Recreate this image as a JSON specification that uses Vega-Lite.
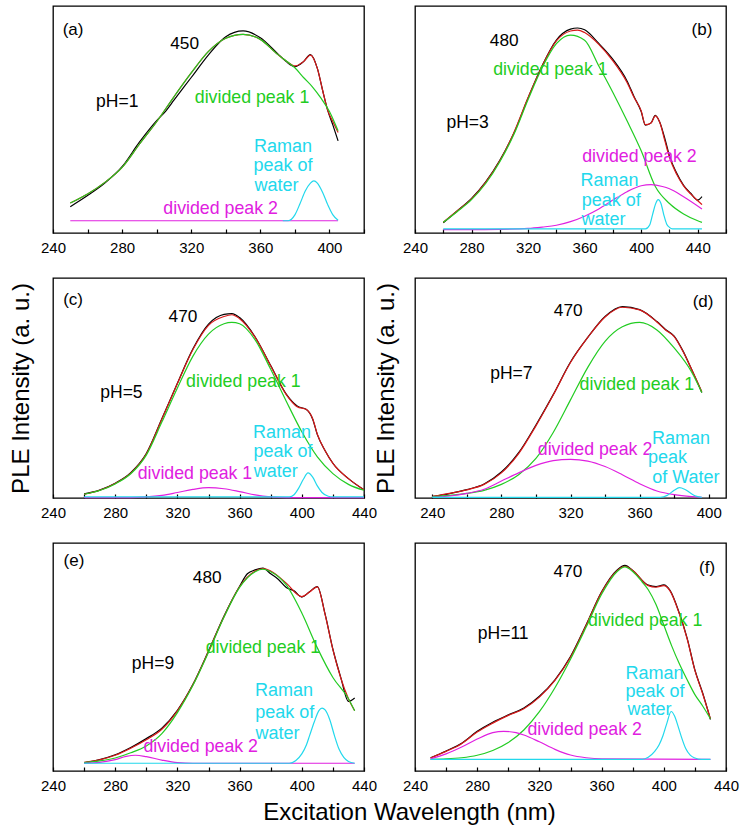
{
  "$schema": "https://vega.github.io/schema/vega-lite/v6.json",
  "padding": {"left": 8, "top": 5, "right": 4, "bottom": 4},
  "background": "white",
  "columns": 2,
  "spacing": {"row": 45, "column": 51},
  "bounds": "flush",
  "config": {
    "view": {"stroke": "#000000", "strokeWidth": 1.3},
    "axis": {"grid": false, "domain": false, "labelFont": "Liberation Sans", "titleFont": "Liberation Sans", "labelFontSize": 15, "labelColor": "#000000", "titleColor": "#000000", "titleFontWeight": "normal", "tickColor": "#000000", "tickWidth": 1.2},
    "text": {"font": "Liberation Sans"}
  },
  "datasets": {
    "curves": [
      {"p": "a", "s": "k", "x": [250,260,270,280,290,300,305,310,320,330,340,350,360,370,375,380,385,389,393,396,399,402,405], "y": [11.6,16.5,22.0,29.2,40.0,49.5,53.5,58.5,68.5,78.5,86.5,89.0,86.0,79.0,75.5,73.3,75.5,78.6,72.5,63.0,54.0,47.5,40.6]},
      {"p": "a", "s": "r", "x": [250,260,270,280,290,300,310,320,330,340,350,360,370,375,380,385,389,393,396,399,402,405], "y": [13.2,17.2,22.3,28.9,39.1,49.0,60.0,70.5,80.0,85.8,87.5,85.3,78.7,75.8,73.6,75.5,78.4,72.5,63.0,54.0,49.0,44.3]},
      {"p": "a", "s": "g", "x": [250,260,270,280,290,300,310,320,330,340,350,360,370,375,380,385,390,395,400,405], "y": [13.2,17.2,22.3,28.9,39.1,49.0,60.0,70.5,80.0,85.8,87.5,85.3,78.7,75.8,72.8,68.5,64.5,59.5,53.5,45.0]},
      {"p": "a", "s": "m", "x": [250,405], "y": [5.4,5.4]},
      {"p": "a", "s": "c", "x": [373,376,380,383,386,389,391,393,396,399,402,405], "y": [5.4,5.4,8.0,13.0,18.5,22.0,23.0,22.0,18.0,12.5,8.0,5.6]},

      {"p": "b", "s": "k", "x": [260,270,280,290,300,310,320,330,340,350,355,360,370,380,390,395,400,403,407,410,413,417,420,425,430,435,440,443], "y": [4.5,9.8,15.2,22.5,32.0,44.0,59.5,73.8,85.0,89.8,90.3,89.5,83.5,76.5,67.0,60.0,53.5,47.5,48.5,51.8,49.0,41.0,34.0,26.5,21.0,17.5,14.5,16.0]},
      {"p": "b", "s": "r", "x": [260,270,280,290,300,310,320,330,340,350,355,360,370,380,390,395,400,403,407,410,413,417,420,425,430,435,440,443], "y": [4.7,9.8,15.0,22.3,31.8,44.3,59.7,73.6,84.6,89.0,89.4,88.3,83.1,75.8,66.3,59.7,53.8,47.7,48.5,51.6,49.0,40.0,33.3,26.0,20.8,17.2,14.2,12.5]},
      {"p": "b", "s": "g", "x": [260,270,280,290,300,310,320,330,340,350,360,370,380,390,400,410,420,430,440,443], "y": [4.7,9.5,14.7,21.8,31.4,43.5,58.8,72.9,83.4,87.2,84.9,73.6,61.9,49.4,36.2,20.5,13.0,8.4,5.4,4.7]},
      {"p": "b", "s": "m", "x": [260,280,300,320,330,340,350,360,370,380,390,400,407,415,420,430,443], "y": [1.5,1.5,1.6,2.0,2.6,3.4,5.0,7.4,10.6,14.5,18.2,20.8,21.3,20.5,19.5,16.0,10.6]},
      {"p": "b", "s": "c", "x": [260,403,406,408,410,412,414,416,418,420,422,443], "y": [1.8,1.8,3.5,8.0,12.5,14.7,13.0,8.0,4.0,2.5,1.8,1.8]},

      {"p": "c", "s": "k", "x": [260,270,280,290,300,310,320,330,340,345,350,355,360,370,380,390,397,403,407,410,415,420,430,440], "y": [1.9,3.6,6.7,11.5,20.2,36.0,52.2,67.8,79.0,82.0,83.5,83.8,82.0,73.2,60.2,47.2,41.8,40.2,35.8,28.8,21.5,15.8,8.8,3.7]},
      {"p": "c", "s": "r", "x": [260,270,280,290,300,310,320,330,340,350,355,360,370,380,390,397,403,407,410,415,420,430,440], "y": [1.7,3.5,6.6,11.3,20.0,35.8,52.0,67.5,78.5,82.5,83.3,81.5,73.0,60.0,47.0,41.5,40.2,36.0,29.0,21.5,15.7,8.8,3.8]},
      {"p": "c", "s": "g", "x": [260,270,280,290,300,310,320,330,340,350,355,360,370,380,390,400,410,420,430,440], "y": [1.7,3.4,6.4,11.0,19.5,34.5,50.0,64.5,74.5,79.2,79.8,79.2,71.9,58.5,44.0,30.1,18.7,11.1,6.2,3.5]},
      {"p": "c", "s": "m", "x": [260,290,300,310,320,330,340,350,360,370,380,390,440], "y": [0.2,0.2,0.5,1.2,2.5,3.9,4.7,4.2,2.9,1.4,0.5,0.2,0.2]},
      {"p": "c", "s": "c", "x": [260,392,395,398,401,404,407,410,413,417,420,440], "y": [0.5,0.5,1.5,4.5,8.5,11.4,9.5,5.5,2.5,0.8,0.5,0.5]},

      {"p": "d", "s": "k", "x": [240,250,260,270,280,290,300,310,320,330,340,350,360,370,375,380,385,390,396], "y": [0.6,2.0,3.8,6.4,11.8,20.6,33.2,47.0,61.8,73.0,82.5,87.0,85.6,80.2,76.6,73.6,67.0,58.6,48.0]},
      {"p": "d", "s": "r", "x": [240,250,260,270,280,290,300,310,320,330,340,350,360,370,375,380,385,390,396], "y": [0.7,2.1,3.7,6.2,11.4,20.2,32.8,46.8,61.6,73.0,82.3,86.7,85.5,80.0,76.4,73.4,66.8,58.6,48.3]},
      {"p": "d", "s": "g", "x": [240,250,260,270,280,290,300,310,320,330,340,350,360,370,380,390,396], "y": [0.6,1.2,2.1,3.5,6.2,10.6,18.0,29.8,44.6,59.4,71.2,77.8,79.8,76.4,68.2,57.4,48.0]},
      {"p": "d", "s": "m", "x": [240,250,260,270,280,290,300,310,320,330,340,350,360,370,380,390,396], "y": [0.3,0.9,2.1,4.0,7.7,11.4,14.8,17.0,17.6,16.8,14.3,10.6,6.5,3.2,1.5,0.6,0.3]},
      {"p": "d", "s": "c", "x": [240,372,376,380,383,386,389,392,396], "y": [0.3,0.3,1.2,3.5,4.7,4.0,2.5,1.0,0.3]},

      {"p": "e", "s": "k", "x": [260,270,280,290,300,310,320,330,340,350,360,365,370,375,380,385,390,395,400,405,410,415,420,425,430,434], "y": [3.6,5.0,7.1,10.3,14.2,18.8,26.6,38.0,52.6,68.0,81.0,86.5,88.2,89.0,86.5,84.0,80.5,79.0,76.3,78.6,80.9,68.8,53.4,41.2,30.5,32.0]},
      {"p": "e", "s": "r", "x": [260,270,280,290,300,310,320,330,340,350,360,370,375,380,390,400,405,410,415,420,425,430,434], "y": [3.8,4.9,6.9,10.0,13.7,18.3,26.4,37.9,52.5,67.8,80.8,87.7,88.8,87.7,82.4,76.5,78.5,80.8,68.6,53.2,40.9,31.7,26.4]},
      {"p": "e", "s": "g", "x": [260,270,280,290,300,310,320,330,340,350,360,370,375,380,390,400,410,420,430,434], "y": [3.7,4.4,5.7,8.0,11.0,16.4,25.6,37.6,52.1,67.5,80.5,87.4,88.5,87.4,81.6,69.3,54.0,41.0,31.7,26.4]},
      {"p": "e", "s": "m", "x": [260,270,280,287,293,300,310,320,330,434], "y": [3.4,3.8,5.0,6.4,6.9,6.3,4.8,3.7,3.4,3.4]},
      {"p": "e", "s": "c", "x": [260,392,396,400,403,405,408,411,413,415,418,421,424,427,430,434], "y": [3.4,3.4,4.5,7.5,11.5,15.5,21.5,26.5,27.6,26.8,22.5,15.5,9.5,6.0,4.2,3.4]},

      {"p": "f", "s": "k", "x": [250,260,270,280,290,300,310,320,330,340,350,360,370,375,380,390,395,400,404,410,415,420,425,430], "y": [5.8,8.8,12.2,17.4,21.4,24.6,27.6,32.8,40.0,50.2,64.0,78.6,88.2,90.2,88.0,81.5,80.9,81.6,79.2,69.2,58.3,44.3,34.2,22.6]},
      {"p": "f", "s": "r", "x": [250,260,270,280,290,300,310,320,330,340,350,360,370,375,380,390,395,400,404,410,415,420,425,430], "y": [5.7,8.6,12.0,17.1,21.0,24.4,27.3,32.4,39.7,49.9,63.8,78.4,87.9,89.8,87.9,81.3,80.6,81.3,79.0,68.9,58.0,44.1,33.9,22.9]},
      {"p": "f", "s": "g", "x": [250,260,270,280,290,300,310,320,330,340,350,360,370,375,380,386,390,395,400,405,410,415,420,425,430], "y": [5.1,5.3,5.8,6.9,9.0,12.5,18.0,26.0,36.5,49.0,63.0,77.5,87.5,89.5,87.5,83.0,79.5,73.0,64.0,55.0,47.0,40.0,33.5,28.5,22.9]},
      {"p": "f", "s": "m", "x": [250,260,270,280,290,297,305,310,320,330,340,350,360,430], "y": [5.3,7.5,10.5,14.0,16.8,17.4,16.8,15.8,12.8,9.5,7.0,5.8,5.3,5.1]},
      {"p": "f", "s": "c", "x": [250,386,390,394,397,399.5,402,404.7,407,409,411,414,417,420,424,430], "y": [5.1,5.1,6.0,8.5,11.5,15.6,21.0,26.1,24.0,20.0,15.6,10.0,7.0,5.7,5.1,5.1]}
    ],
    "labels": [
      {"p": "a", "t": "(a)", "x": 251.6, "y": 89.3, "s": "k", "r": "tag"},
      {"p": "a", "t": "450", "x": 316.2, "y": 83.1, "s": "k", "r": "num"},
      {"p": "a", "t": "pH=1", "x": 277.2, "y": 57.5, "s": "k", "r": "ph"},
      {"p": "a", "t": "divided peak 1", "x": 355.2, "y": 59.4, "s": "g", "r": "peak"},
      {"p": "a", "t": "Raman", "x": 373.1, "y": 37.7, "s": "c", "r": "raman"},
      {"p": "a", "t": "peak of", "x": 373.1, "y": 29.3, "s": "c", "r": "raman"},
      {"p": "a", "t": "water", "x": 369.3, "y": 20.5, "s": "c", "r": "raman"},
      {"p": "a", "t": "divided peak 2", "x": 337.0, "y": 10.6, "s": "m", "r": "peak"},

      {"p": "b", "t": "(b)", "x": 443.0, "y": 89.3, "s": "k", "r": "tag"},
      {"p": "b", "t": "480", "x": 303.1, "y": 84.6, "s": "k", "r": "num"},
      {"p": "b", "t": "divided peak 1", "x": 335.8, "y": 71.8, "s": "g", "r": "peak"},
      {"p": "b", "t": "pH=3", "x": 277.2, "y": 48.4, "s": "k", "r": "ph"},
      {"p": "b", "t": "divided peak 2", "x": 398.8, "y": 33.7, "s": "m", "r": "peak"},
      {"p": "b", "t": "Raman", "x": 377.6, "y": 23.0, "s": "c", "r": "raman"},
      {"p": "b", "t": "peak of", "x": 378.8, "y": 14.2, "s": "c", "r": "raman"},
      {"p": "b", "t": "water", "x": 373.4, "y": 5.7, "s": "c", "r": "raman"},

      {"p": "c", "t": "(c)", "x": 252.9, "y": 90.1, "s": "k", "r": "tag"},
      {"p": "c", "t": "470", "x": 323.6, "y": 82.2, "s": "k", "r": "num"},
      {"p": "c", "t": "divided peak 1", "x": 362.4, "y": 52.9, "s": "g", "r": "peak"},
      {"p": "c", "t": "pH=5", "x": 284.0, "y": 47.6, "s": "k", "r": "ph"},
      {"p": "c", "t": "divided peak 1", "x": 331.3, "y": 10.8, "s": "m", "r": "peak"},
      {"p": "c", "t": "Raman", "x": 387.3, "y": 29.6, "s": "c", "r": "raman"},
      {"p": "c", "t": "peak of", "x": 387.9, "y": 20.7, "s": "c", "r": "raman"},
      {"p": "c", "t": "water", "x": 383.2, "y": 11.6, "s": "c", "r": "raman"},

      {"p": "d", "t": "(d)", "x": 396.7, "y": 88.9, "s": "k", "r": "tag"},
      {"p": "d", "t": "470", "x": 318.7, "y": 84.8, "s": "k", "r": "num"},
      {"p": "d", "t": "pH=7", "x": 285.8, "y": 56.4, "s": "k", "r": "ph"},
      {"p": "d", "t": "divided peak 1", "x": 358.4, "y": 51.3, "s": "g", "r": "peak"},
      {"p": "d", "t": "divided peak 2", "x": 334.2, "y": 21.7, "s": "m", "r": "peak"},
      {"p": "d", "t": "Raman", "x": 383.9, "y": 26.9, "s": "c", "r": "raman"},
      {"p": "d", "t": "peak", "x": 376.2, "y": 18.0, "s": "c", "r": "raman"},
      {"p": "d", "t": "of Water", "x": 386.8, "y": 9.2, "s": "c", "r": "raman"},

      {"p": "e", "t": "(e)", "x": 253.5, "y": 92.3, "s": "k", "r": "tag"},
      {"p": "e", "t": "480", "x": 339.2, "y": 84.7, "s": "k", "r": "num"},
      {"p": "e", "t": "divided peak 1", "x": 375.0, "y": 54.0, "s": "g", "r": "peak"},
      {"p": "e", "t": "pH=9", "x": 304.3, "y": 47.1, "s": "k", "r": "ph"},
      {"p": "e", "t": "divided peak 2", "x": 335.0, "y": 10.6, "s": "m", "r": "peak"},
      {"p": "e", "t": "Raman", "x": 388.6, "y": 35.1, "s": "c", "r": "raman"},
      {"p": "e", "t": "peak of", "x": 389.0, "y": 25.6, "s": "c", "r": "raman"},
      {"p": "e", "t": "water", "x": 384.3, "y": 16.4, "s": "c", "r": "raman"},

      {"p": "f", "t": "(f)", "x": 427.8, "y": 88.9, "s": "k", "r": "tag"},
      {"p": "f", "t": "470", "x": 338.4, "y": 87.2, "s": "k", "r": "num"},
      {"p": "f", "t": "pH=11", "x": 296.7, "y": 60.1, "s": "k", "r": "ph"},
      {"p": "f", "t": "divided peak 1", "x": 388.0, "y": 66.0, "s": "g", "r": "peak"},
      {"p": "f", "t": "divided peak 2", "x": 349.1, "y": 17.8, "s": "m", "r": "peak"},
      {"p": "f", "t": "Raman", "x": 394.0, "y": 42.6, "s": "c", "r": "raman"},
      {"p": "f", "t": "peak of", "x": 394.4, "y": 34.6, "s": "c", "r": "raman"},
      {"p": "f", "t": "water", "x": 390.8, "y": 26.6, "s": "c", "r": "raman"}
    ]
  },
  "concat": [
    {
      "width": 311, "height": 227,
      "encoding": {
        "x": {"field": "x", "type": "quantitative", "scale": {"domain": [240, 420], "nice": false, "zero": false}, "axis": {"title": null, "values": [240,260,280,300,320,340,360,380,400,420], "tickSize": -4, "labelPadding": 11, "labelFlush": false, "labelOverlap": false, "labelExpr": "datum.value % 40 == 0 ? datum.label : ''"}},
        "y": {"field": "y", "type": "quantitative", "scale": {"domain": [0, 100], "nice": false}, "axis": null},
        "color": {"field": "s", "type": "nominal", "scale": {"domain": ["k","r","g","m","c"], "range": ["#000000","#D81818","#22CC22","#E020E0","#22D8EC"]}, "legend": null}
      },
      "layer": [
        {"data": {"name": "curves"}, "transform": [{"filter": "datum.p == 'a'"}, {"flatten": ["x", "y"]}], "mark": {"type": "line", "strokeWidth": 1.2, "interpolate": "monotone"}},
        {"data": {"name": "labels"}, "transform": [{"filter": "datum.p == 'a'"}], "mark": {"type": "text", "align": "center", "baseline": "middle"}, "encoding": {"text": {"field": "t"}, "size": {"field": "r", "type": "ordinal", "scale": {"domain": ["tag","num","ph","peak","raman"], "range": [17,18,19,16,15]}, "legend": null}}}
      ]
    },
    {
      "width": 311, "height": 227,
      "encoding": {
        "x": {"field": "x", "type": "quantitative", "scale": {"domain": [240, 460], "nice": false, "zero": false}, "axis": {"title": null, "values": [240,260,280,300,320,340,360,380,400,420,440,460], "tickSize": -4, "labelPadding": 11, "labelFlush": false, "labelOverlap": false, "labelExpr": "datum.value % 40 == 0 && datum.value < 450 ? datum.label : ''"}},
        "y": {"field": "y", "type": "quantitative", "scale": {"domain": [0, 100], "nice": false}, "axis": null},
        "color": {"field": "s", "type": "nominal", "scale": {"domain": ["k","r","g","m","c"], "range": ["#000000","#D81818","#22CC22","#E020E0","#22D8EC"]}, "legend": null}
      },
      "layer": [
        {"data": {"name": "curves"}, "transform": [{"filter": "datum.p == 'b'"}, {"flatten": ["x", "y"]}], "mark": {"type": "line", "strokeWidth": 1.2, "interpolate": "monotone"}},
        {"data": {"name": "labels"}, "transform": [{"filter": "datum.p == 'b'"}], "mark": {"type": "text", "align": "center", "baseline": "middle"}, "encoding": {"text": {"field": "t"}, "size": {"field": "r", "type": "ordinal", "scale": {"domain": ["tag","num","ph","peak","raman"], "range": [17,18,19,16,15]}, "legend": null}}}
      ]
    },
    {
      "width": 311, "height": 220,
      "encoding": {
        "x": {"field": "x", "type": "quantitative", "scale": {"domain": [240, 440], "nice": false, "zero": false}, "axis": {"title": null, "values": [240,260,280,300,320,340,360,380,400,420,440], "tickSize": -4, "labelPadding": 11, "labelFlush": false, "labelOverlap": false, "labelExpr": "datum.value % 40 == 0 ? datum.label : ''"}},
        "y": {"field": "y", "type": "quantitative", "scale": {"domain": [0, 100], "nice": false}, "axis": {"title": "PLE Intensity (a. u.)", "labels": false, "ticks": false, "domain": false, "titleFontSize": 24, "titlePadding": 20}},
        "color": {"field": "s", "type": "nominal", "scale": {"domain": ["k","r","g","m","c"], "range": ["#000000","#D81818","#22CC22","#E020E0","#22D8EC"]}, "legend": null}
      },
      "layer": [
        {"data": {"name": "curves"}, "transform": [{"filter": "datum.p == 'c'"}, {"flatten": ["x", "y"]}], "mark": {"type": "line", "strokeWidth": 1.2, "interpolate": "monotone"}},
        {"data": {"name": "labels"}, "transform": [{"filter": "datum.p == 'c'"}], "mark": {"type": "text", "align": "center", "baseline": "middle"}, "encoding": {"text": {"field": "t"}, "size": {"field": "r", "type": "ordinal", "scale": {"domain": ["tag","num","ph","peak","raman"], "range": [17,18,19,16,15]}, "legend": null}}}
      ]
    },
    {
      "width": 311, "height": 220,
      "encoding": {
        "x": {"field": "x", "type": "quantitative", "scale": {"domain": [230, 410], "nice": false, "zero": false}, "axis": {"title": null, "values": [240,260,280,300,320,340,360,380,400], "tickSize": -4, "labelPadding": 11, "labelFlush": false, "labelOverlap": false, "labelExpr": "datum.value % 40 == 0 ? datum.label : ''"}},
        "y": {"field": "y", "type": "quantitative", "scale": {"domain": [0, 100], "nice": false}, "axis": {"title": "PLE Intensity (a. u.)", "labels": false, "ticks": false, "domain": false, "titleFontSize": 24, "titlePadding": 17}},
        "color": {"field": "s", "type": "nominal", "scale": {"domain": ["k","r","g","m","c"], "range": ["#000000","#D81818","#22CC22","#E020E0","#22D8EC"]}, "legend": null}
      },
      "layer": [
        {"data": {"name": "curves"}, "transform": [{"filter": "datum.p == 'd'"}, {"flatten": ["x", "y"]}], "mark": {"type": "line", "strokeWidth": 1.2, "interpolate": "monotone"}},
        {"data": {"name": "labels"}, "transform": [{"filter": "datum.p == 'd'"}], "mark": {"type": "text", "align": "center", "baseline": "middle"}, "encoding": {"text": {"field": "t"}, "size": {"field": "r", "type": "ordinal", "scale": {"domain": ["tag","num","ph","peak","raman"], "range": [17,18,19,16,16]}, "legend": null}}}
      ]
    },
    {
      "width": 311, "height": 228,
      "encoding": {
        "x": {"field": "x", "type": "quantitative", "scale": {"domain": [240, 440], "nice": false, "zero": false}, "axis": {"title": "Excitation Wavelength (nm)", "titleFontSize": 24, "titleX": 356, "titleY": 48, "titleAlign": "center", "titleBaseline": "alphabetic", "values": [240,260,280,300,320,340,360,380,400,420,440], "tickSize": -4, "labelPadding": 11, "labelFlush": false, "labelOverlap": false, "labelExpr": "datum.value % 40 == 0 ? datum.label : ''"}},
        "y": {"field": "y", "type": "quantitative", "scale": {"domain": [0, 100], "nice": false}, "axis": null},
        "color": {"field": "s", "type": "nominal", "scale": {"domain": ["k","r","g","m","c"], "range": ["#000000","#D81818","#22CC22","#E020E0","#22D8EC"]}, "legend": null}
      },
      "layer": [
        {"data": {"name": "curves"}, "transform": [{"filter": "datum.p == 'e'"}, {"flatten": ["x", "y"]}], "mark": {"type": "line", "strokeWidth": 1.2, "interpolate": "monotone"}},
        {"data": {"name": "labels"}, "transform": [{"filter": "datum.p == 'e'"}], "mark": {"type": "text", "align": "center", "baseline": "middle"}, "encoding": {"text": {"field": "t"}, "size": {"field": "r", "type": "ordinal", "scale": {"domain": ["tag","num","ph","peak","raman"], "range": [17,18,19,16,16]}, "legend": null}}}
      ]
    },
    {
      "width": 311, "height": 228,
      "encoding": {
        "x": {"field": "x", "type": "quantitative", "scale": {"domain": [240, 440], "nice": false, "zero": false}, "axis": {"title": null, "values": [240,260,280,300,320,340,360,380,400,420,440], "tickSize": -4, "labelPadding": 11, "labelFlush": false, "labelOverlap": false, "labelExpr": "datum.value % 40 == 0 ? datum.label : ''"}},
        "y": {"field": "y", "type": "quantitative", "scale": {"domain": [0, 100], "nice": false}, "axis": null},
        "color": {"field": "s", "type": "nominal", "scale": {"domain": ["k","r","g","m","c"], "range": ["#000000","#D81818","#22CC22","#E020E0","#22D8EC"]}, "legend": null}
      },
      "layer": [
        {"data": {"name": "curves"}, "transform": [{"filter": "datum.p == 'f'"}, {"flatten": ["x", "y"]}], "mark": {"type": "line", "strokeWidth": 1.2, "interpolate": "monotone"}},
        {"data": {"name": "labels"}, "transform": [{"filter": "datum.p == 'f'"}], "mark": {"type": "text", "align": "center", "baseline": "middle"}, "encoding": {"text": {"field": "t"}, "size": {"field": "r", "type": "ordinal", "scale": {"domain": ["tag","num","ph","peak","raman"], "range": [18,18,19,18,13]}, "legend": null}}}
      ]
    }
  ]
}
